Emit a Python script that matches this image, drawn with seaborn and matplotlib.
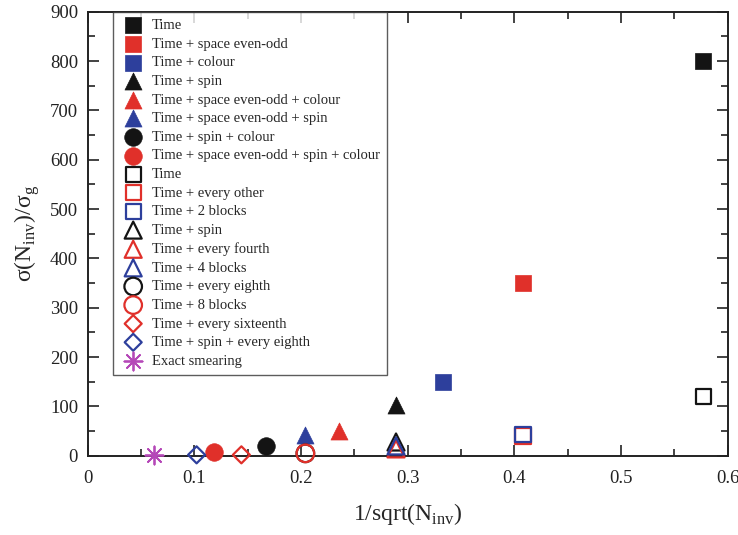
import matplotlib
matplotlib.use('Agg')
import matplotlib.pyplot as plt
import seaborn as sns
import pandas as pd
import numpy as np
from matplotlib.ticker import MultipleLocator, FuncFormatter

# values
labels = ['Time', 'Time + space even-odd', 'Time + colour', 'Time + spin',
          'Time + space even-odd + colour', 'Time + space even-odd + spin',
          'Time + spin + colour', 'Time + space even-odd + spin + colour',
          'Time', 'Time + every other', 'Time + 2 blocks', 'Time + spin',
          'Time + every fourth', 'Time + 4 blocks', 'Time + every eighth',
          'Time + 8 blocks', 'Time + every sixteenth', 'Time + spin + every eighth',
          'Exact smearing']
x_vals = [0.577, 0.408, 0.333, 0.289, 0.236, 0.204, 0.167, 0.118,
          0.577, 0.408, 0.408, 0.289, 0.289, 0.289, 0.204, 0.204, 0.144, 0.102, 0.0625]
y_vals = [800, 350, 150, 102, 50, 42, 20, 8,
          120, 40, 44, 28, 14, 20, 5, 5, 2, 2, 1]
colors = ['k', 'r', 'b', 'k', 'r', 'b', 'k', 'r',
          'k', 'r', 'b', 'k', 'r', 'b', 'k', 'r', 'r', 'b', 'm']
markers = ['s', 's', 's', '^', '^', '^', 'o', 'o',
           's', 's', 's', '^', '^', '^', 'o', 'o', 'D', 'D', '*']
filled = [True] * 8 + [False] * 10 + [None]

palette = {'k': '#141414', 'r': '#e0302a', 'b': '#2d3f9c', 'm': '#b548b8'}

df = pd.DataFrame({'label': labels, 'x': x_vals, 'y': y_vals,
                   'c': colors, 'm': markers, 'f': filled})

sns.set_style('ticks')
plt.rcParams['font.family'] = ['Liberation Serif', 'DejaVu Serif']
plt.rcParams['mathtext.fontset'] = 'custom'
plt.rcParams['mathtext.rm'] = 'Liberation Serif'

fig = plt.figure(figsize=(7.38, 5.35), dpi=100)
ax = fig.add_axes([0.119, 0.148, 0.867, 0.830])

sizes = {'s': 120, '^': 150, 'o': 160, 'D': 75}
for i, row in df.iterrows():
    col = palette[row['c']]
    if row['m'] == '*':
        sns.scatterplot(x=[row['x']], y=[row['y']], ax=ax, marker=(8, 2, 0), s=170,
                        color=col, edgecolor=col, linewidth=1.3, label=row['label'],
                        zorder=3, clip_on=False)
    elif row['f']:
        sns.scatterplot(x=[row['x']], y=[row['y']], ax=ax, marker=row['m'], s=sizes[row['m']],
                        color=col, edgecolor=col, linewidth=0.5, label=row['label'],
                        zorder=3, clip_on=False)
    else:
        sns.scatterplot(x=[row['x']], y=[row['y']], ax=ax, marker=row['m'], s=sizes[row['m']],
                        facecolors='none', edgecolor=col, linewidth=1.6,
                        label=row['label'], zorder=3, clip_on=False)

ax.set_xlim(0, 0.6)
ax.set_ylim(0, 900)
ax.xaxis.set_major_locator(MultipleLocator(0.1))
ax.xaxis.set_minor_locator(MultipleLocator(0.05))
ax.yaxis.set_major_locator(MultipleLocator(100))
ax.yaxis.set_minor_locator(MultipleLocator(50))
ax.xaxis.set_major_formatter(FuncFormatter(lambda v, p: '0' if abs(v) < 1e-9 else f'{v:.1f}'))
ax.tick_params(which='both', direction='in', top=True, right=True, labelsize=13.5,
               width=1.2, colors='#222222')
ax.tick_params(which='major', length=8, pad=7)
ax.tick_params(which='minor', length=5)
ax.tick_params(axis='x', which='major', pad=10)
for sp in ax.spines.values():
    sp.set_linewidth(1.4)
    sp.set_color('#222222')

ax.set_xlabel('1/sqrt(N$_{\\rm inv}$)', fontsize=17, labelpad=10)
ax.set_ylabel('σ(N$_{\\rm inv}$)/σ$_{\\rm g}$', fontsize=17, labelpad=6)

leg = ax.legend(loc='upper left', bbox_to_anchor=(0.039, 1.0), borderaxespad=0,
                fontsize=10.5, frameon=True, fancybox=False, labelspacing=0.37,
                handletextpad=0.4, borderpad=0.5, handlelength=1.8)
leg.get_frame().set_edgecolor('#333333')
leg.get_frame().set_linewidth(1.0)

fig.savefig('out.png', dpi=100)
